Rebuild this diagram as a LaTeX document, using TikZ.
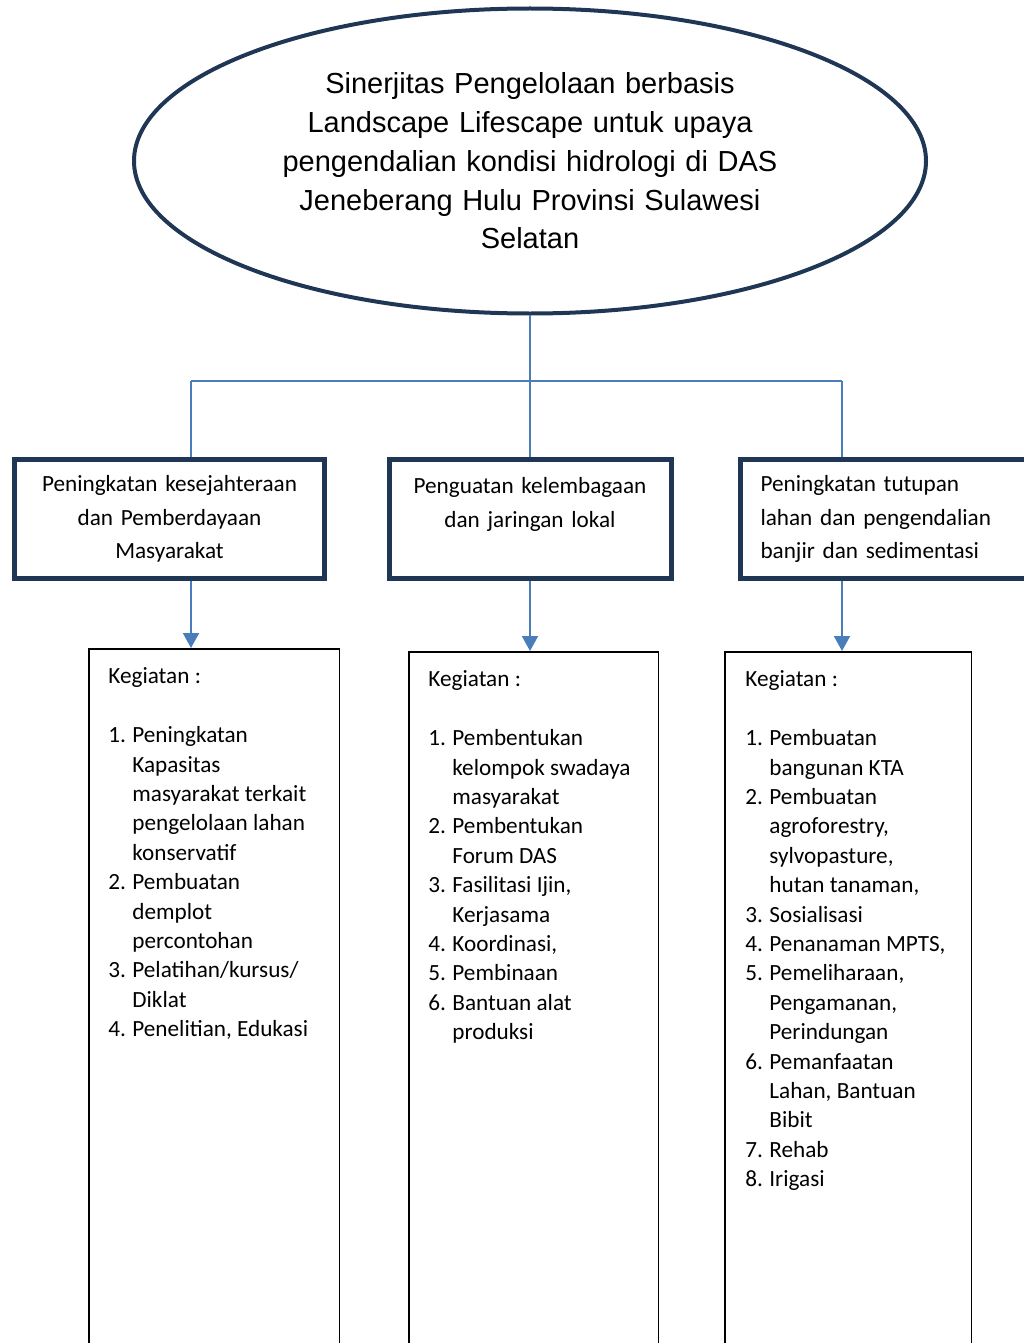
\documentclass[tikz,border=0pt]{standalone}
\usepackage{fontspec}
\setmainfont{Carlito}
\newfontfamily\arialfont{Liberation Sans}
\usetikzlibrary{shapes.geometric,arrows.meta,positioning,calc}
\definecolor{navy}{RGB}{31,55,84}
\definecolor{linkblue}{HTML}{4A7EBB}
\newcommand{\lnum}[1]{\makebox[12pt][l]{#1.}}
\tikzset{
  aimshape/.style={ellipse, draw=navy, line width=2pt, minimum width=396pt,
    minimum height=152.5pt, inner sep=0pt, align=center, text width=260pt,
    font=\arialfont\fontsize{14.5}{19.35}\selectfont},
  pbox/.style={rectangle, draw=navy, line width=2.5pt, minimum height=59.5pt,
    inner xsep=5pt, font=\fontsize{11.6}{16.85}\selectfont},
  actbox/.style={rectangle, draw=black, line width=0.75pt, minimum height=400pt,
    anchor=north},
  acttext/.style={inner sep=0pt, font=\fontsize{11.6}{14.7}\selectfont},
  plink/.style={linkblue, line width=1pt},
  parrow/.style={-{Triangle[length=7.5pt,width=8pt]}, linkblue, line width=1pt}
}

\begin{document}
\begin{tikzpicture}[x=0.5pt, y=-0.5pt]
  \useasboundingbox (0,0) rectangle (1023,1343);
  % goal
  \node[aimshape] (aim) at (530,161) {Sinerjitas Pengelolaan berbasis\\
    Landscape Lifescape untuk upaya\\pengendalian kondisi hidrologi di DAS\\
    Jeneberang Hulu Provinsi Sulawesi\\Selatan};
  % program boxes
  \node[pbox, minimum width=155pt, text width=145pt, align=center] (boxA) at (169.5,519)
    {Peningkatan kesejahteraan\\dan Pemberdayaan\\Masyarakat};
  \node[pbox, minimum width=141pt, text width=131pt, align=center] (boxB) at (530,519)
    {Penguatan kelembagaan\\dan jaringan lokal\\\mbox{}};
  \node[pbox, inner xsep=10pt, text width=145pt, align=left] (boxC) at (905.5,519)
    {Peningkatan tutupan\\lahan dan pengendalian\\banjir dan sedimentasi};
  % connectors
  \coordinate (colA) at (191,381);
  \coordinate (colC) at (842,381);
  \draw[plink] (aim.south) -- (boxB.north);
  \draw[plink] (colA) -- (colC);
  \draw[plink] (boxA.north -| colA) -- (colA);
  \draw[plink] (boxC.north -| colC) -- (colC);
  % activity boxes
  \node[actbox, minimum width=125.25pt] (actA) at (214,648) {};
  \node[actbox, minimum width=124.75pt] (actB) at (533.5,651) {};
  \node[actbox, minimum width=123.25pt] (actC) at (848,651) {};
  \draw[parrow] (boxA.south -| colA) -- (actA.north -| colA);
  \draw[parrow] (boxB.south) -- (actB.north -| boxB.south);
  \draw[parrow] (boxC.south -| colC) -- (actC.north -| colC);
  \node[acttext, below right=7.5pt and 10pt of actA.north west] (listA) {%
    \begin{tabular}{@{}l@{}l@{}}
      \multicolumn{2}{@{}l@{}}{Kegiatan :}\\[14.7pt]
      \lnum{1} & Peningkatan\\ & Kapasitas\\ & masyarakat terkait\\
        & pengelolaan lahan\\ & konservatif\\
      \lnum{2} & Pembuatan\\ & demplot\\ & percontohan\\
      \lnum{3} & Pelatihan/kursus/\\ & Diklat\\
      \lnum{4} & Penelitian, Edukasi
    \end{tabular}};
  \node[acttext, below right=7.5pt and 10pt of actB.north west] (listB) {%
    \begin{tabular}{@{}l@{}l@{}}
      \multicolumn{2}{@{}l@{}}{Kegiatan :}\\[14.7pt]
      \lnum{1} & Pembentukan\\ & kelompok swadaya\\ & masyarakat\\
      \lnum{2} & Pembentukan\\ & Forum DAS\\
      \lnum{3} & Fasilitasi Ijin,\\ & Kerjasama\\
      \lnum{4} & Koordinasi,\\
      \lnum{5} & Pembinaan\\
      \lnum{6} & Bantuan alat\\ & produksi
    \end{tabular}};
  \node[acttext, below right=7.5pt and 10.5pt of actC.north west] (listC) {%
    \begin{tabular}{@{}l@{}l@{}}
      \multicolumn{2}{@{}l@{}}{Kegiatan :}\\[14.7pt]
      \lnum{1} & Pembuatan\\ & bangunan KTA\\
      \lnum{2} & Pembuatan\\ & agroforestry,\\ & sylvopasture,\\ & hutan tanaman,\\
      \lnum{3} & Sosialisasi\\
      \lnum{4} & Penanaman MPTS,\\
      \lnum{5} & Pemeliharaan,\\ & Pengamanan,\\ & Perindungan\\
      \lnum{6} & Pemanfaatan\\ & Lahan, Bantuan\\ & Bibit\\
      \lnum{7} & Rehab\\
      \lnum{8} & Irigasi
    \end{tabular}};
\end{tikzpicture}
\end{document}
